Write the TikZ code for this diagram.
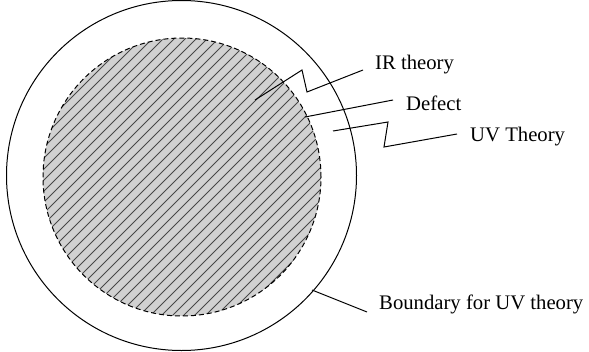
\documentclass[tikz,border=0pt]{standalone}
\usepackage{fontspec}
\setmainfont{Liberation Serif}
\begin{document}
\begin{tikzpicture}[x=1pt,y=-1pt,
  lbl/.style={anchor=west,inner sep=0pt,font=\fontsize{20.7}{22}\selectfont},
  conn/.style={draw=black,line width=1pt},
  hatch/.style={draw=black!72,line width=1pt}]
\useasboundingbox (0,0) rectangle (589,351);
% outer circle
\node[circle,draw,line width=1pt,minimum size=350pt,inner sep=0pt] (outer) at (181.5,175.5) {};
% inner disk
\fill[black!18] (182,177) circle (139);
\begin{scope}
  \clip (182,177) circle (139);
  \foreach \i in {-400,-389,...,600} {
    \draw[hatch] (\i,360) -- ++(400,-400);
  }
\end{scope}
\node[circle,draw,dashed,dash pattern=on 5pt off 3pt,line width=1pt,minimum size=278pt,inner sep=0pt] (inner) at (182,177) {};
% labels
\node[lbl] (ir) at (375,65) {IR theory};
\node[lbl] (def) at (406,103) {Defect};
\node[lbl] (uv) at (470,137) {UV Theory};
\node[lbl] (bd) at (379,304) {Boundary for UV theory};
% connector endpoints
\coordinate (ir0) at (255,100);
\coordinate (ir1) at (363,70);
\coordinate (df0) at (305,117);
\coordinate (df1) at (393,100);
\coordinate (uv0) at (333,131);
\coordinate (uv1) at (457,134);
\coordinate (bd0) at (312,290);
\coordinate (bd1) at (367,312);
\draw[conn] (ir0) -- (302,70) -- (307,92) -- (ir1);
\draw[conn] (df0) -- (df1);
\draw[conn] (uv0) -- (388,122) -- (384,147) -- (uv1);
\draw[conn] (bd0) -- (bd1);
\end{tikzpicture}
\end{document}
